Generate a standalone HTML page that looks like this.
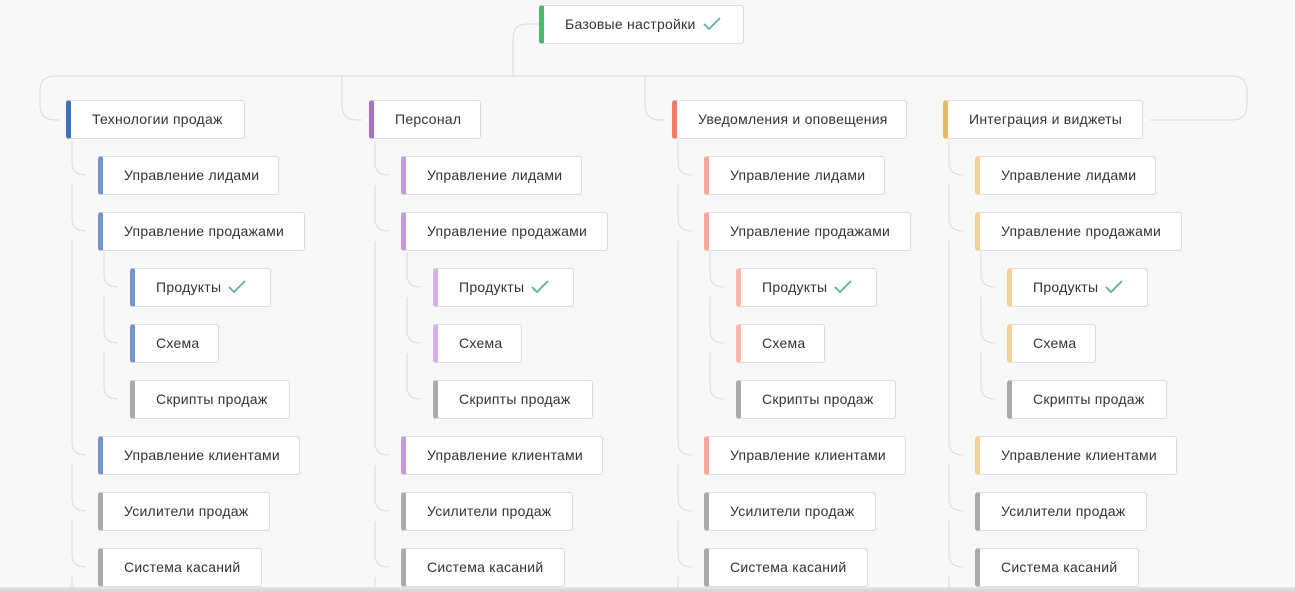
<!DOCTYPE html>
<html><head><meta charset="utf-8">
<style>
html,body{margin:0;padding:0}
body{width:1295px;height:591px;background:#f8f8f8;position:relative;overflow:hidden;font-family:"Liberation Sans","DejaVu Sans",sans-serif}
.n{position:absolute;background:#fff;border:1px solid #dcdcdc;border-left:5px solid #aaa;border-radius:3px;box-sizing:border-box;height:39px;line-height:37px;font-size:14px;letter-spacing:0.25px;color:#333;padding-left:21px;white-space:nowrap}
.n svg{vertical-align:middle;margin-left:7px;margin-top:-3px}
svg.c{position:absolute;left:0;top:0}
.g{border-left-color:#aaa}
.b0{border-left-color:#3f72b6}.b1{border-left-color:#6f98cc}
.p0{border-left-color:#aa72c4}.p1{border-left-color:#c79bdb}.p2{border-left-color:#d6b3e5}
.s0{border-left-color:#f07c68}.s1{border-left-color:#f5a898}.s2{border-left-color:#f6b9ab}
.y0{border-left-color:#e8b95e}.y1{border-left-color:#f3d194}
.bottom{position:absolute;left:0;top:587px;width:1295px;height:4px;background:linear-gradient(#e6e6e6,#d6d6d6)}
</style></head><body>
<svg class="c" width="1295" height="591" fill="none" stroke="#d9d9d9" stroke-width="1">
<path d="M539 24 H527 Q513 24 513 38 V76"/>
<path d="M55 76 H1232 Q1247 76 1247 91 V105 Q1247 120 1232 120 H1150"/>
<path d="M55 76 Q40 76 40 91 V105 Q40 120 55 120 H60"/>
<path d="M342 76 V105 Q342 120 357 120 H362"/>
<path d="M645 76 V105 Q645 120 660 120 H665"/>
<g id="c1">
<path d="M72 141 V163 Q72 175 86 175"/>
<path d="M72 185 V219 Q72 231 86 231"/>
<path d="M72 241 V443 Q72 455 86 455"/>
<path d="M72 465 V499 Q72 511 86 511"/>
<path d="M72 521 V555 Q72 567 86 567"/>
<path d="M72 577 V591"/>
<path d="M104 252 V275 Q104 287 118 287"/>
<path d="M104 297 V331 Q104 343 118 343"/>
<path d="M104 353 V387 Q104 399 118 399"/>
</g>
<use href="#c1" x="303"/>
<use href="#c1" x="606"/>
<use href="#c1" x="877"/>
</svg>

<div class="n" style="left:539px;top:5px;width:205px;border-left-color:#4cb86a">Базовые настройки<svg width="18" height="14"><polyline points="1,7 6,12 17,1" stroke="#62ad9f" stroke-width="1.7" fill="none"/></svg></div>

<div class="n b0" style="left:66px;top:100px;width:179px">Технологии продаж</div>
<div class="n b1" style="left:98px;top:156px;width:181px">Управление лидами</div>
<div class="n b1" style="left:98px;top:212px;width:207px">Управление продажами</div>
<div class="n b1" style="left:130px;top:268px;width:141px">Продукты<svg width="18" height="14"><polyline points="1,7 6,12 17,1" stroke="#62ad9f" stroke-width="1.7" fill="none"/></svg></div>
<div class="n b1" style="left:130px;top:324px;width:89px">Схема</div>
<div class="n g" style="left:130px;top:380px;width:160px">Скрипты продаж</div>
<div class="n b1" style="left:98px;top:436px;width:202px">Управление клиентами</div>
<div class="n g" style="left:98px;top:492px;width:172px">Усилители продаж</div>
<div class="n g" style="left:98px;top:548px;width:164px">Система касаний</div>

<div class="n p0" style="left:369px;top:100px;width:112px">Персонал</div>
<div class="n p1" style="left:401px;top:156px;width:181px">Управление лидами</div>
<div class="n p1" style="left:401px;top:212px;width:207px">Управление продажами</div>
<div class="n p2" style="left:433px;top:268px;width:141px">Продукты<svg width="18" height="14"><polyline points="1,7 6,12 17,1" stroke="#62ad9f" stroke-width="1.7" fill="none"/></svg></div>
<div class="n p2" style="left:433px;top:324px;width:89px">Схема</div>
<div class="n g" style="left:433px;top:380px;width:160px">Скрипты продаж</div>
<div class="n p1" style="left:401px;top:436px;width:202px">Управление клиентами</div>
<div class="n g" style="left:401px;top:492px;width:172px">Усилители продаж</div>
<div class="n g" style="left:401px;top:548px;width:164px">Система касаний</div>

<div class="n s0" style="left:672px;top:100px;width:235px">Уведомления и оповещения</div>
<div class="n s1" style="left:704px;top:156px;width:181px">Управление лидами</div>
<div class="n s1" style="left:704px;top:212px;width:207px">Управление продажами</div>
<div class="n s2" style="left:736px;top:268px;width:141px">Продукты<svg width="18" height="14"><polyline points="1,7 6,12 17,1" stroke="#62ad9f" stroke-width="1.7" fill="none"/></svg></div>
<div class="n s2" style="left:736px;top:324px;width:89px">Схема</div>
<div class="n g" style="left:736px;top:380px;width:160px">Скрипты продаж</div>
<div class="n s1" style="left:704px;top:436px;width:202px">Управление клиентами</div>
<div class="n g" style="left:704px;top:492px;width:172px">Усилители продаж</div>
<div class="n g" style="left:704px;top:548px;width:164px">Система касаний</div>

<div class="n y0" style="left:943px;top:100px;width:200px">Интеграция и виджеты</div>
<div class="n y1" style="left:975px;top:156px;width:181px">Управление лидами</div>
<div class="n y1" style="left:975px;top:212px;width:207px">Управление продажами</div>
<div class="n y1" style="left:1007px;top:268px;width:141px">Продукты<svg width="18" height="14"><polyline points="1,7 6,12 17,1" stroke="#62ad9f" stroke-width="1.7" fill="none"/></svg></div>
<div class="n y1" style="left:1007px;top:324px;width:89px">Схема</div>
<div class="n g" style="left:1007px;top:380px;width:160px">Скрипты продаж</div>
<div class="n y1" style="left:975px;top:436px;width:202px">Управление клиентами</div>
<div class="n g" style="left:975px;top:492px;width:172px">Усилители продаж</div>
<div class="n g" style="left:975px;top:548px;width:164px">Система касаний</div>

<div class="bottom"></div>
</body></html>
